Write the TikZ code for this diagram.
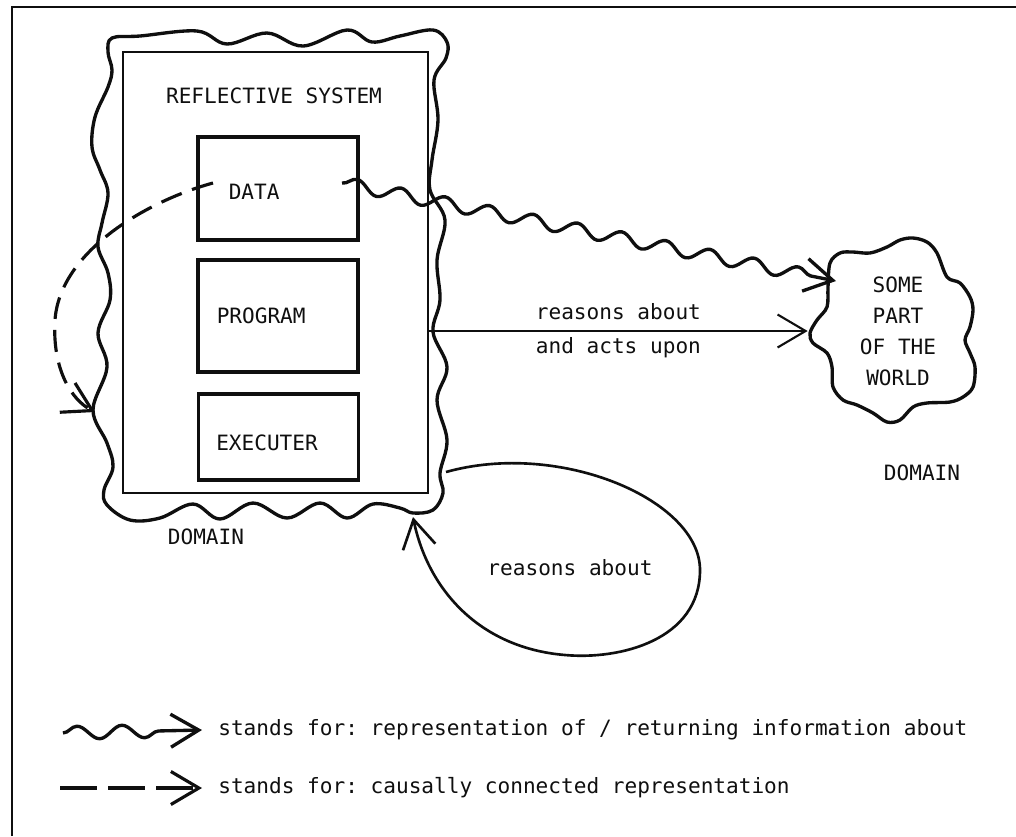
\documentclass[tikz,border=0pt]{standalone}
\usepackage{fontspec}
\setmonofont{DejaVu Sans Mono}
\usepackage{tikz}
\usetikzlibrary{arrows.meta,positioning,calc,decorations.pathmorphing}
\definecolor{ink}{RGB}{15,15,15}

\begin{document}
\begin{tikzpicture}[x=0.2mm, y=-0.2mm,
  font=\fontsize{12}{17.6}\selectfont\ttfamily,
  sysbox/.style={draw=ink, line width=1.3pt, minimum width=61mm, minimum height=88.2mm, inner sep=0pt},
  part/.style={draw=ink, line width=1.8pt, minimum width=32mm, inner sep=0pt},
  lbl/.style={text=ink, inner sep=0pt},
  arr/.style={-{Straight Barb[length=5.6mm, width=6.6mm]}, line width=1.2pt, ink},
  wavy/.style={arr, line width=1.9pt, decorate, decoration={snake, amplitude=1.3mm, segment length=9mm, post length=5mm}},
  causal/.style={arr, line width=1.8pt, dash pattern=on 4.4mm off 2.2mm},
  blob/.style={draw=ink, line width=1.9pt}
]
  \useasboundingbox (0,0) rectangle (1016,836);
  \draw[ink, line width=1.1pt] (12,836) -- (12,7) -- (1016,7);

  % reflective system and its parts
  \node[sysbox] (sys) at (275.5,272.5) {};
  \node[lbl] (title) at (274,96) {REFLECTIVE SYSTEM};
  \node[part, minimum height=20.6mm] (data) at (278,188.5) {};
  \node[part, minimum height=22.4mm] (prog) at (278,316) {};
  \node[part, minimum height=17.2mm] (exec) at (278.5,437) {};
  \node[lbl, right=6.4mm of data.west, yshift=-0.7mm] (dataT) {DATA};
  \node[lbl, right=4mm of prog.west] (progT) {PROGRAM};
  \node[lbl, right=3.8mm of exec.west, yshift=-1.2mm] (execT) {EXECUTER};

  % its domain
  \draw[blob] plot[smooth cycle, tension=0.6] coordinates {
    (108,52) (112,38) (140,36) (197,31) (227,44) (267,33) (303,46) (347,30)
    (372,42) (400,36) (433,30) (447,42) (446,58) (434,80) (438,120) (432,160)
    (430,190) (445,220) (437,260) (440,300) (433,332) (447,367) (437,400)
    (447,440) (440,473) (443,493) (433,510) (413,513) (400,508) (373,504)
    (347,518) (320,503) (287,518) (253,503) (220,519) (193,504) (160,518)
    (130,520) (107,505) (104,490) (113,467) (107,443) (93,410) (107,367)
    (98,333) (110,300) (108,273) (98,247) (102,223) (108,193) (100,170)
    (92,147) (95,117) (108,87) (112,70)};
  \node[lbl] (domL) at (206,537) {DOMAIN};

  % some part of the world
  \node[lbl, align=center, minimum width=36mm] (world) at (898,331) {SOME\\PART\\OF THE\\WORLD};
  \draw[blob] plot[smooth cycle, tension=0.55] coordinates {
    (830,263) (840,253) (853,252) (870,253) (887,247) (900,240) (913,238)
    (927,242) (937,253) (947,277) (960,283) (970,297) (973,310) (970,327)
    (965,340) (970,353) (975,367) (973,387) (963,397) (950,402) (927,403)
    (913,407) (900,420) (887,422) (873,413) (857,405) (843,400) (833,387)
    (832,367) (827,353) (813,343) (810,333) (817,320) (827,307) (828,287)};
  \node[lbl] (domR) at (922,473) {DOMAIN};

  % connectors
  \coordinate (dsrc) at (342,183);
  \coordinate (dlink) at (213,183);
  \coordinate (domW) at (95,412);
  \coordinate (domE) at (446,472);
  \coordinate (domS) at (413,517);
  \draw[wavy] (dsrc) -- (836,281);
  \draw[arr] (sys.east |- world.west) -- (world.west)
    node[lbl, midway, above=2mm] (actA) {reasons about}
    node[lbl, midway, below=1mm] (actB) {and acts upon};
  \draw[causal] (dlink) .. controls (150,200) and (60,250) .. (55,320)
    .. controls (52,370) and (72,400) .. (domW);
  \draw[arr, line width=1.5pt] (domE) .. controls (560,440) and (700,500) .. (700,570)
    .. controls (700,640) and (620,660) .. (565,655)
    .. controls (480,648) and (428,590) .. (domS);
  \node[lbl] (selfT) at (570,568) {reasons about};

  % key
  \node[lbl, anchor=west] (key1) at (218,730) {stands for: representation of / returning information about};
  \node[lbl, anchor=west] (key2) at (218,788) {stands for: causally connected representation};
  \coordinate (k1s) at (63,733);
  \coordinate (k2s) at (60,788);
  \draw[wavy] (k1s) -- ($(key1.west)+(-16,0)$);
  \draw[causal, dash pattern=on 7.4mm off 2.2mm] (k2s) -- ($(key2.west)+(-16,0)$);
\end{tikzpicture}
\end{document}
